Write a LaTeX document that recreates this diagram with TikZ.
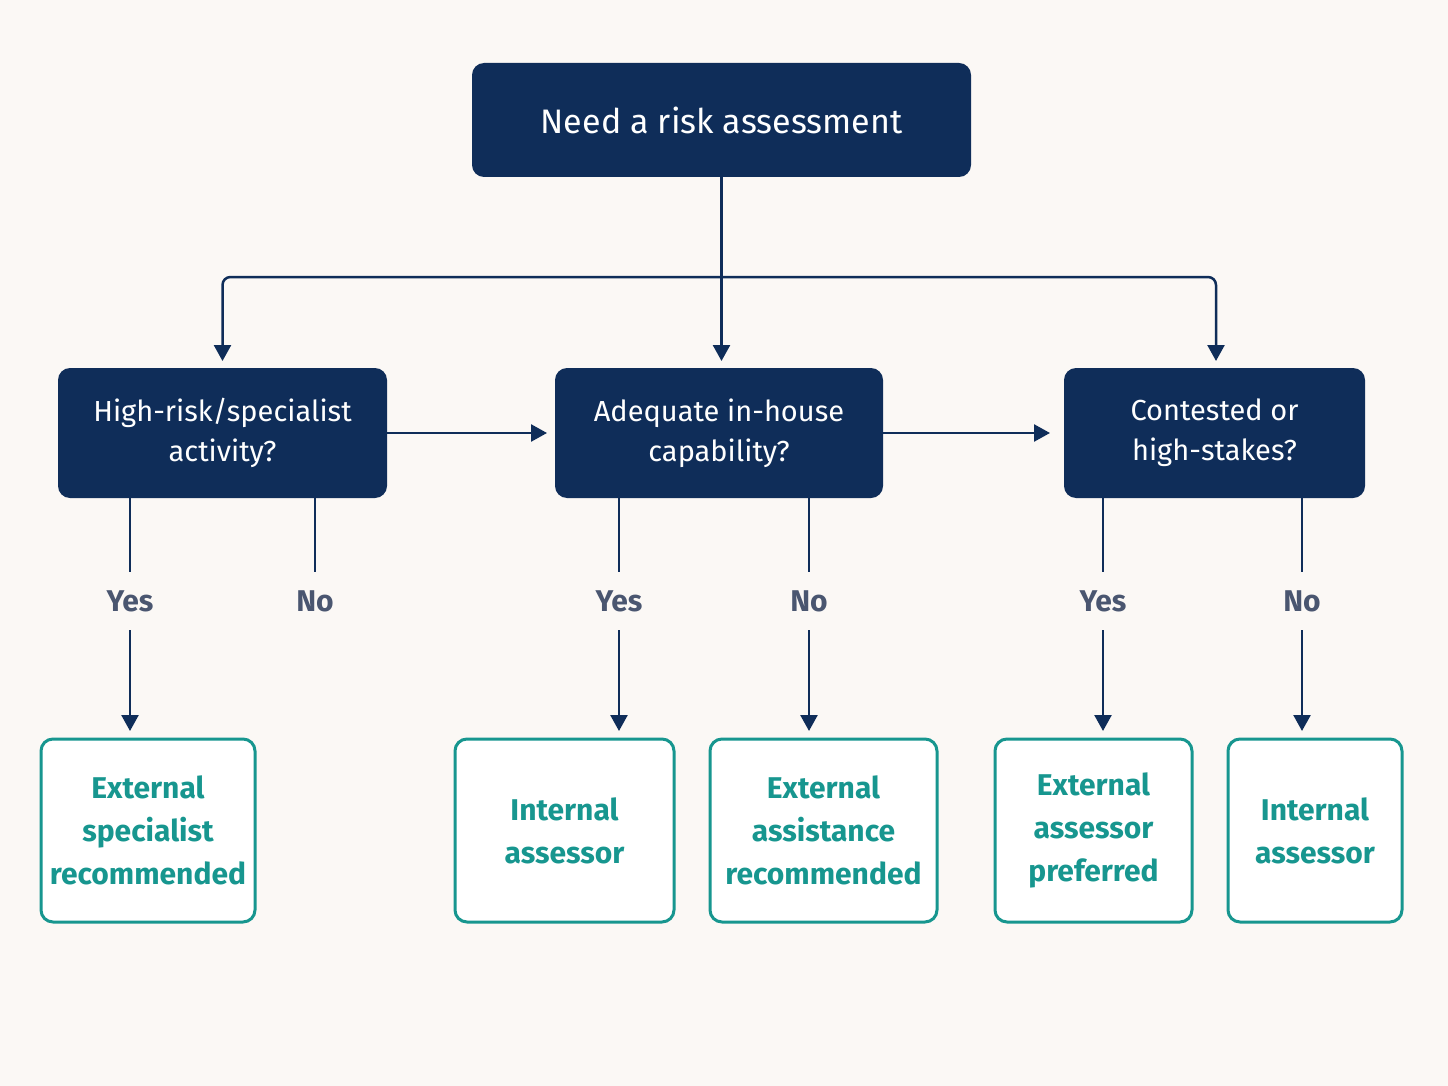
\documentclass[tikz,border=0pt]{standalone}
\usepackage{fontspec}
\setmainfont{Fira Sans}
\usetikzlibrary{arrows.meta}
\definecolor{navy}{HTML}{0F2D59}
\definecolor{teal}{HTML}{17968F}
\definecolor{lbl}{HTML}{4A5670}
\definecolor{bg}{HTML}{FBF8F5}
\begin{document}
\begin{tikzpicture}[x=1pt,y=-1pt,
  dec/.style={draw=none,fill=navy,rounded corners=12pt,text=white,align=center,inner sep=0pt,font=\fontsize{29}{40}\selectfont},
  res/.style={draw=teal,line width=3pt,fill=white,rounded corners=12pt,text=teal,align=center,inner sep=0pt,font=\fontsize{30}{43}\selectfont\bfseries},
  ln/.style={navy,line width=2.5pt},
  arr/.style={ln,-{Triangle[length=16pt,width=17pt]}},
  yn/.style={text=lbl,font=\fontsize{30}{36}\selectfont\bfseries,inner sep=0pt}]
\fill[bg] (0,0) rectangle (1448,1086);
\useasboundingbox (0,0) rectangle (1448,1086);
\node[dec,minimum width=499pt,minimum height=114pt,font=\fontsize{34}{40}\selectfont] (top) at (721.5,120) {Need a risk assessment};
\node[dec,minimum width=329pt,minimum height=130pt] (A) at (222.5,433) {High-risk/specialist\\activity?};
\node[dec,minimum width=328pt,minimum height=130pt] (B) at (719,433) {Adequate in-house\\capability?};
\node[dec,minimum width=301pt,minimum height=130pt] (C) at (1214.5,433) {Contested or\\high-stakes?};
\node[res,minimum width=214pt,minimum height=183pt] (o1) at (148,830.5) {External\\specialist\\recommended};
\node[res,minimum width=219pt,minimum height=183pt] (o2) at (564.5,830.5) {Internal\\assessor};
\node[res,minimum width=227pt,minimum height=183pt] (o3) at (823.5,830.5) {External\\assistance\\recommended};
\node[res,minimum width=197pt,minimum height=183pt] (o4) at (1093.5,830.5) {External\\assessor\\preferred};
\node[res,minimum width=174pt,minimum height=183pt] (o5) at (1315,830.5) {Internal\\assessor};
\coordinate (j) at (721.5,277);
\coordinate (ja) at (222.5,277);
\coordinate (jc) at (1216,277);
\draw[arr] (top.south) -- (721.5,361);
\draw[arr,rounded corners=8pt] (j) -- (ja) -- (222.5,361);
\draw[arr,rounded corners=8pt] (j) -- (jc) -- (1216,361);
\draw[arr] (A.east) -- (547,433);
\draw[arr] (B.east) -- (1050,433);
\foreach \n/\x/\t in {a1/130/Yes,a2/315/No,b1/619/Yes,b2/809/No,c1/1103/Yes,c2/1302/No}{
  \node[yn] (\n) at (\x,601) {\t};
  \draw[ln] (\x,498) -- (\x,572);
}
\foreach \x in {130,619,809,1103,1302}{
  \draw[arr] (\x,630) -- (\x,731);
}
\end{tikzpicture}
\end{document}
